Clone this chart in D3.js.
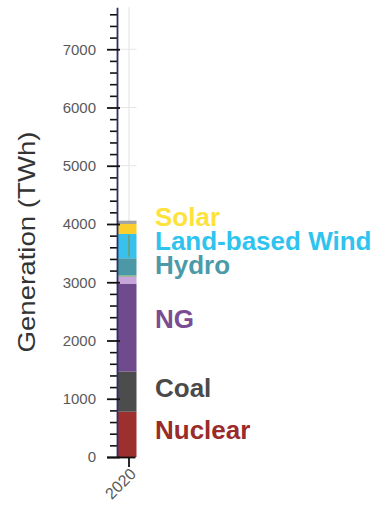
<!DOCTYPE html>
<html>
<head>
<meta charset="utf-8">
<script src="https://cdn.jsdelivr.net/npm/d3@7"></script>
<style>
  html, body { margin: 0; padding: 0; background: #fff; }
  svg { display: block; font-family: "Liberation Sans", Arial, sans-serif; }
</style>
</head>
<body>
<svg id="chart" width="385" height="509"></svg>
<script>
// ---- data (TWh, 2020) ----
const years = ["2020"];
const seriesNames = ["Nuclear", "Coal", "NG", "Other", "Geothermal", "Hydro", "Land-based Wind", "Solar", "Storage"];
const seriesValues = [778, 687, 1505, 126, 20, 296, 417, 172, 56];
const seriesColors = ["#9e2f2f", "#4c4c4c", "#6f4a8c", "#c6a6da", "#7ea565", "#4b99a6", "#39c1ee", "#fbcf2b", "#a3a3a3"];
const labeledSeries = ["Nuclear", "Coal", "NG", "Hydro", "Land-based Wind", "Solar"];
const labelColors = { "Nuclear": "#9a2b2b", "Coal": "#4a4a4a", "NG": "#7a4d92", "Hydro": "#4b9aa8", "Land-based Wind": "#2fc3ef", "Solar": "#fee23c" };
const yTickValues = [0, 1000, 2000, 3000, 4000, 5000, 6000, 7000];
const yMax = 7720;

// ---- layout ----
const margin = { left: 117, top: 7.3 };
const plotW = 19.5, plotH = 449.7;
const svg = d3.select("#chart");
const g = svg.append("g").attr("transform", `translate(${margin.left},${margin.top})`);

const x = d3.scaleBand().domain(years).range([0, 24]).padding(0);
const y = d3.scaleLinear().domain([0, yMax]).range([plotH, 0]);

// clip
svg.append("defs").append("clipPath").attr("id", "clip")
  .append("rect").attr("x", 0).attr("y", 0).attr("width", plotW).attr("height", plotH);

// gridlines
g.append("g").selectAll("line.h").data(yTickValues.slice(1)).join("line")
  .attr("x1", 0).attr("x2", plotW).attr("y1", d => y(d)).attr("y2", d => y(d))
  .attr("stroke", "#e6e6e6").attr("stroke-width", 1);
g.append("g").selectAll("line.v").data(years).join("line")
  .attr("x1", d => x(d) + x.bandwidth() / 2).attr("x2", d => x(d) + x.bandwidth() / 2)
  .attr("y1", 0).attr("y2", plotH)
  .attr("stroke", "#e6e6e6").attr("stroke-width", 1.2);

// stacked data
const row = {};
seriesNames.forEach((n, i) => row[n] = seriesValues[i]);
const stack = d3.stack().keys(seriesNames)([Object.assign({ year: years[0] }, row)]);

const bars = g.append("g").attr("clip-path", "url(#clip)");
stack.forEach((s, i) => {
  bars.selectAll(null).data(s).join("rect")
    .attr("x", d => x(d.data.year))
    .attr("width", x.bandwidth())
    .attr("y", d => y(d[1]))
    .attr("height", d => y(d[0]) - y(d[1]))
    .attr("fill", seriesColors[i]);
});

// thin line inside the wind segment
const windS = stack[seriesNames.indexOf("Land-based Wind")][0];
g.append("line")
  .attr("x1", x(years[0]) + x.bandwidth() / 2).attr("x2", x(years[0]) + x.bandwidth() / 2)
  .attr("y1", y(windS[1]) + 1).attr("y2", y(windS[0]) - 1.5)
  .attr("stroke", "#6f9c72").attr("stroke-width", 1.6);

// y axis: minor ticks
const minorVals = d3.range(0, yMax, 200).filter(v => v % 1000 !== 0);
const yMinor = g.append("g").call(d3.axisLeft(y).tickValues(minorVals).tickSize(7).tickFormat(""));
yMinor.select(".domain").remove();
yMinor.selectAll(".tick line").attr("stroke", "#111").attr("stroke-width", 1.6).attr("x1", 1);

// y axis: major ticks + labels
const yAxis = g.append("g").call(d3.axisLeft(y).tickValues(yTickValues).tickFormat(d3.format("d"))
  .tickSize(10).tickPadding(11).tickSizeOuter(0));
yAxis.select(".domain").attr("stroke", "#2d2d6a").attr("stroke-width", 1.8);
yAxis.selectAll(".tick line").attr("stroke", "#111").attr("stroke-width", 1.8).attr("x1", 3);
yAxis.selectAll(".tick text").attr("font-size", 15).attr("fill", "#595959")
  .attr("font-family", "'Liberation Sans', Arial, sans-serif");

// x axis
const xAxis = g.append("g").attr("transform", `translate(0,${plotH})`)
  .call(d3.axisBottom(x).tickSize(10).tickSizeOuter(0));
xAxis.select(".domain").attr("stroke", "#111").attr("stroke-width", 1.8)
  .attr("d", `M-10,0.5H${plotW - 1}`);
xAxis.selectAll(".tick line").attr("stroke", "#111").attr("stroke-width", 1.8);
xAxis.selectAll(".tick text")
  .attr("font-size", 16).attr("fill", "#595959")
  .attr("font-family", "'Liberation Sans', Arial, sans-serif")
  .attr("text-anchor", "end")
  .attr("transform", "translate(4,14) rotate(-45)")
  .attr("dy", "0.35em").attr("y", 0).attr("x", 0);

// y axis title
svg.append("text")
  .attr("transform", `translate(35,${242}) rotate(-90)`)
  .attr("text-anchor", "middle")
  .attr("font-size", 24.5)
  .attr("fill", "#333")
  .attr("textLength", 221).attr("lengthAdjust", "spacingAndGlyphs")
  .text("Generation (TWh)");

// series labels anchored within their segments, dodged upward
const labels = labeledSeries.map(n => {
  const s = stack[seriesNames.indexOf(n)][0];
  return { name: n, pos: margin.top + y(s[0] + 0.6 * (s[1] - s[0])) };
}).sort((a, b) => b.pos - a.pos);
const gap = 24;
for (let i = 1; i < labels.length; i++) {
  if (labels[i - 1].pos - labels[i].pos < gap) labels[i].pos = labels[i - 1].pos - gap;
}
svg.append("g").selectAll("text").data(labels).join("text")
  .attr("x", 155).attr("y", d => d.pos).attr("dy", "0.35em")
  .attr("font-size", 26).attr("font-weight", "bold")
  .attr("fill", d => labelColors[d.name])
  .text(d => d.name);
</script>
</body>
</html>
